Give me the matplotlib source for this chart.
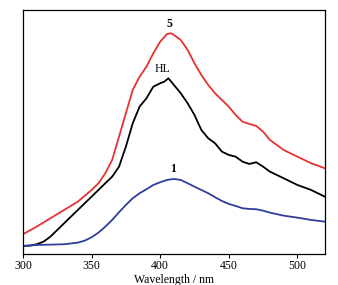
import matplotlib
matplotlib.use("Agg")
import matplotlib.pyplot as plt

# emission spectra, intensity in arbitrary units
wl_5 = [300, 310, 320, 330, 340, 350, 355, 360, 365, 370, 375, 380, 385, 390, 395, 400,
        405, 408, 410, 415, 420, 425, 430, 435, 440, 445, 450, 455, 460, 465, 470, 475,
        480, 490, 500, 510, 520]
int_5 = [19.7, 27.3, 35.7, 44, 52.3, 64, 70.7, 80.7, 94, 117.3, 140.7, 164, 177.3, 187.3,
         200.7, 212.3, 220, 220.7, 219, 214, 204, 190.7, 179, 169, 160.7, 154, 147.3, 139,
         132.3, 130, 128, 122.3, 114, 104, 97.3, 90.7, 85.7]

wl_hl = [300, 305, 310, 315, 320, 330, 340, 350, 360, 365, 370, 375, 380, 385, 390, 395,
         400, 403, 406, 410, 415, 420, 425, 430, 435, 440, 445, 450, 455, 460, 465, 470,
         475, 480, 490, 500, 510, 520]
int_hl = [8, 8.3, 9.7, 12.3, 17.3, 30.7, 44, 57.3, 70.7, 77.3, 87.3, 107.3, 130.7, 147.3,
          155.7, 167.3, 170.7, 172.3, 175.7, 169, 160.7, 150.7, 139, 124, 115.7, 110.7,
          102.3, 99, 97.3, 92.3, 90, 91.7, 87.3, 82.3, 75.7, 69, 64, 57.3]

wl_1 = [300, 310, 320, 330, 340, 345, 350, 355, 360, 365, 370, 375, 380, 385, 390, 395,
        400, 405, 410, 415, 420, 425, 430, 435, 440, 445, 450, 455, 460, 465, 470, 475,
        480, 490, 500, 510, 520]
int_1 = [8, 9, 9.3, 9.7, 11.3, 13.3, 16.7, 21.3, 27.3, 34, 41.7, 49, 55.7, 60.7, 64.7, 69,
         71.7, 74, 75, 74, 70.7, 67.3, 64, 60.7, 56.7, 53, 50, 48, 45.7, 45, 44.7, 43.3,
         41.3, 38.3, 36.3, 34, 32.3]

plt.rcParams["font.family"] = ["Liberation Serif", "DejaVu Serif"]

fig = plt.figure(figsize=(3.38, 2.85), dpi=100)
ax = fig.add_axes([0.068, 0.109, 0.893, 0.856])

ax.plot(wl_5, int_5, color="#e63232", lw=1.3)
ax.plot(wl_hl, int_hl, color="black", lw=1.3)
ax.plot(wl_1, int_1, color="#2d3f9b", lw=1.3)

ax.text(407, 224, "5", ha="center", va="bottom", fontsize=8.5, fontweight="bold")
ax.text(402, 179, "HL", ha="center", va="bottom", fontsize=8.5)
ax.text(409, 79, "1", ha="center", va="bottom", fontsize=8.5, fontweight="bold")

ax.set_xlim(300, 520)
ax.set_ylim(0, 244)
ax.set_xticks([300, 350, 400, 450, 500])
ax.set_yticks([])
ax.tick_params(axis="x", direction="out", length=3, width=0.8, labelsize=8.5, pad=1.5)
for s in ax.spines.values():
    s.set_linewidth(0.9)
ax.set_xlabel("Wavelength / nm", fontsize=8.5, labelpad=1)

fig.savefig("out.png", dpi=100)
